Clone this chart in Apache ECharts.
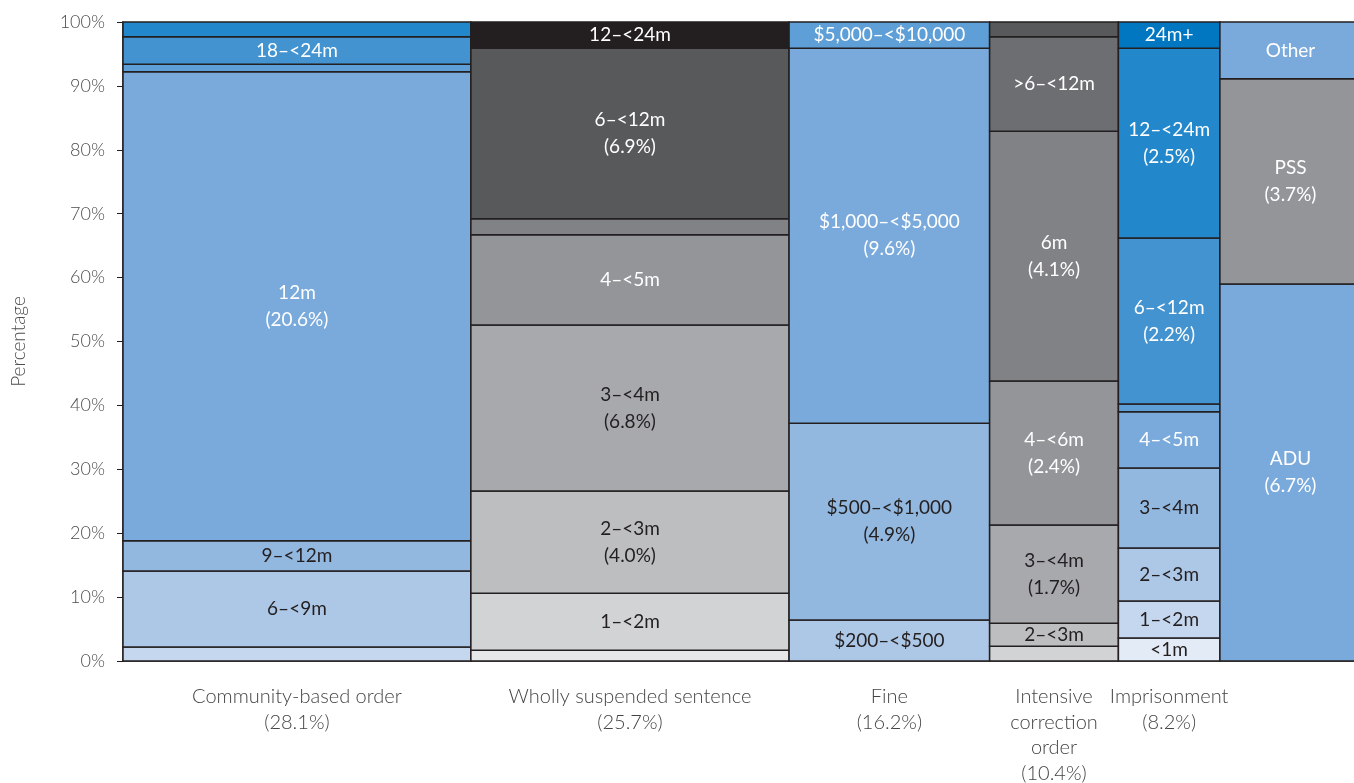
<!DOCTYPE html>
<html>
<head>
<meta charset="utf-8">
<script src="https://cdn.jsdelivr.net/npm/echarts@6/dist/echarts.min.js"></script>
<style>html,body{margin:0;padding:0;background:#fff}#c{width:1354px;height:783px}</style>
</head>
<body>
<div id="c"></div>
<script>
// ---- DATA ----
const columns = ['Community-based order', 'Wholly suspended sentence', 'Fine', 'Intensive correction order', 'Imprisonment', 'Other'];
const columnLabels = ['Community-based order\n(28.1%)', 'Wholly suspended sentence\n(25.7%)', 'Fine\n(16.2%)', 'Intensive\ncorrection\norder\n(10.4%)', 'Imprisonment\n(8.2%)', ''];
const columnShares = [28.1, 25.7, 16.2, 10.4, 8.2, 11.4];

const cboSegments = ['<6m', '6–<9m', '9–<12m', '12m', '>12–<18m', '18–<24m', '24m+'];
const cboValues   = [2.2, 11.9, 4.7, 73.4, 1.2, 4.3, 2.3];
const cboLabels   = ['', '6–<9m', '9–<12m', '12m\n(20.6%)', '', '18–<24m', ''];

const wssSegments = ['<1m', '1–<2m', '2–<3m', '3–<4m', '4–<5m', '5–<6m', '6–<12m', '12–<24m'];
const wssValues   = [1.7, 8.9, 16.0, 26.0, 14.1, 2.5, 26.7, 4.1];
const wssLabels   = ['', '1–<2m', '2–<3m\n(4.0%)', '3–<4m\n(6.8%)', '4–<5m', '', '6–<12m\n(6.9%)', '12–<24m'];

const fineSegments = ['$200–<$500', '$500–<$1,000', '$1,000–<$5,000', '$5,000–<$10,000'];
const fineValues   = [6.4, 30.8, 58.7, 4.1];
const fineLabels   = ['$200–<$500', '$500–<$1,000\n(4.9%)', '$1,000–<$5,000\n(9.6%)', '$5,000–<$10,000'];

const icoSegments = ['<2m', '2–<3m', '3–<4m', '4–<6m', '6m', '>6–<12m', '12m+'];
const icoValues   = [2.3, 3.6, 15.4, 22.5, 39.1, 14.8, 2.3];
const icoLabels   = ['', '2–<3m', '3–<4m\n(1.7%)', '4–<6m\n(2.4%)', '6m\n(4.1%)', '>6–<12m', ''];

const impSegments = ['<1m', '1–<2m', '2–<3m', '3–<4m', '4–<5m', '5–<6m', '6–<12m', '12–<24m', '24m+'];
const impValues   = [3.6, 5.8, 8.3, 12.5, 8.8, 1.2, 26.0, 29.7, 4.1];
const impLabels   = ['<1m', '1–<2m', '2–<3m', '3–<4m', '4–<5m', '', '6–<12m\n(2.2%)', '12–<24m\n(2.5%)', '24m+'];

const otherSegments = ['ADU', 'PSS', 'Other'];
const otherValues   = [59.0, 32.1, 8.9];
const otherLabels   = ['ADU\n(6.7%)', 'PSS\n(3.7%)', 'Other'];

const yTickLabels = ['0%', '10%', '20%', '30%', '40%', '50%', '60%', '70%', '80%', '90%', '100%'];

// ---- STYLE ----
const DARK = '#231f20';
const cboColors   = ['#c5d7ee', '#adc8e6', '#92b8e0', '#7aaadb', '#5d9fd6', '#4393d0', '#2388cb'];
const cboText     = [DARK, DARK, DARK, '#fff', '#fff', '#fff', '#fff'];
const wssColors   = ['#e6e7e8', '#d1d3d4', '#bcbec0', '#a7a9ac', '#939598', '#808285', '#58595b', '#231f20'];
const wssText     = [DARK, DARK, DARK, DARK, '#fff', '#fff', '#fff', '#fff'];
const fineColors  = ['#adc8e6', '#92b8e0', '#7aaadb', '#5d9fd6'];
const fineText    = [DARK, DARK, '#fff', '#fff'];
const icoColors   = ['#d1d3d4', '#bcbec0', '#a7a9ac', '#939598', '#808285', '#6d6e71', '#58595b'];
const icoText     = [DARK, DARK, DARK, '#fff', '#fff', '#fff', '#fff'];
const impColors   = ['#e2ebf6', '#c5d7ee', '#adc8e6', '#92b8e0', '#7aaadb', '#5d9fd6', '#4393d0', '#2388cb', '#0077c0'];
const impText     = [DARK, DARK, DARK, DARK, '#fff', '#fff', '#fff', '#fff', '#fff'];
const otherColors = ['#7aaadb', '#939598', '#7aaadb'];
const otherText   = ['#fff', '#fff', '#fff'];

const FONT = 'Lato, "Open Sans", sans-serif';
// visible part of the horizontal axis (the original picture is cropped at its right edge)
const X_VISIBLE_MAX = 99.43;

const groups = [
  [cboValues, cboLabels, cboColors, cboText],
  [wssValues, wssLabels, wssColors, wssText],
  [fineValues, fineLabels, fineColors, fineText],
  [icoValues, icoLabels, icoColors, icoText],
  [impValues, impLabels, impColors, impText],
  [otherValues, otherLabels, otherColors, otherText]
];

const rects = [];
const catData = [];
let xc = 0;
groups.forEach((g, ci) => {
  const [vals, labs, cols, txt] = g;
  const x0 = xc, x1 = xc + columnShares[ci];
  let yc = 0;
  vals.forEach((v, i) => {
    rects.push({ value: [x0, x1, yc, yc + v], label: labs[i], color: cols[i], textColor: txt[i] });
    yc += v;
  });
  catData.push({ value: [(x0 + x1) / 2, 0], label: columnLabels[ci] });
  xc = x1;
});

const chart = echarts.init(document.getElementById('c'), null, { renderer: 'canvas' });
chart.setOption({
  animation: false,
  backgroundColor: '#fff',
  grid: { left: 123, right: 0, top: 22, bottom: 122, containLabel: false },
  xAxis: {
    type: 'value', min: 0, max: X_VISIBLE_MAX,
    axisLine: { show: true, lineStyle: { color: DARK, width: 1.5 } },
    axisTick: { show: false }, axisLabel: { show: false }, splitLine: { show: false }
  },
  yAxis: {
    type: 'value', min: 0, max: 100, interval: 10,
    name: 'Percentage', nameLocation: 'middle', nameGap: 95,
    nameTextStyle: { fontFamily: FONT, fontSize: 19, color: '#4d4d4d', fontWeight: 300 },
    axisLine: { show: true, lineStyle: { color: DARK, width: 1.5 } },
    axisTick: { show: true, length: 6, lineStyle: { color: DARK } },
    axisLabel: { fontFamily: FONT, fontSize: 18, color: '#4d4d4d', margin: 18, fontWeight: 300,
      formatter: (v) => yTickLabels[Math.round(v / 10)] },
    splitLine: { show: false }
  },
  series: [
    {
      type: 'custom',
      data: rects,
      clip: false,
      renderItem: (params, api) => {
        const d = rects[params.dataIndex];
        const p0 = api.coord([api.value(0), api.value(3)]);
        const p1 = api.coord([api.value(1), api.value(2)]);
        return {
          type: 'rect',
          shape: { x: p0[0], y: p0[1], width: p1[0] - p0[0], height: p1[1] - p0[1] },
          style: { fill: d.color, stroke: DARK, lineWidth: 1.5 },
          textContent: {
            style: { text: d.label, fill: d.textColor, font: '19px ' + FONT, align: 'center', lineHeight: 27 }
          },
          textConfig: { position: 'inside' }
        };
      },
      encode: { x: [0, 1], y: [2, 3] }
    },
    {
      type: 'custom',
      data: catData,
      clip: false,
      renderItem: (params, api) => {
        const d = catData[params.dataIndex];
        const p = api.coord([api.value(0), api.value(1)]);
        return {
          type: 'text',
          x: p[0], y: p[1] + 23,
          style: { text: d.label, fill: '#444', font: '300 20px ' + FONT, align: 'center', verticalAlign: 'top', lineHeight: 25.5 }
        };
      },
      encode: { x: 0, y: 1 }
    }
  ]
});
</script>
</body>
</html>
